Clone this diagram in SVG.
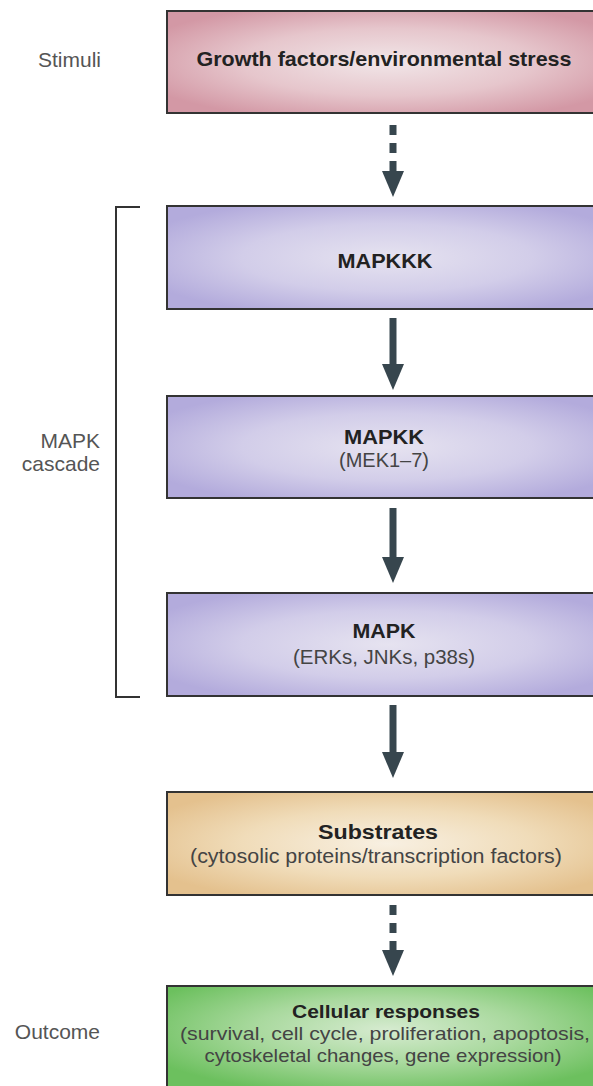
<svg xmlns="http://www.w3.org/2000/svg" width="593" height="1086" viewBox="0 0 593 1086">
<defs>
<radialGradient id="gPink" cx="0.5" cy="0.5" r="0.6">
<stop offset="0" stop-color="#f1e6e8"/><stop offset="0.55" stop-color="#e6c6cc"/><stop offset="1" stop-color="#d398a5"/>
</radialGradient>
<radialGradient id="gLav" cx="0.5" cy="0.5" r="0.6">
<stop offset="0" stop-color="#e6e3f0"/><stop offset="0.55" stop-color="#d2cde9"/><stop offset="1" stop-color="#b3abdc"/>
</radialGradient>
<radialGradient id="gTan" cx="0.5" cy="0.5" r="0.6">
<stop offset="0" stop-color="#f8f0e2"/><stop offset="0.55" stop-color="#f0dcb9"/><stop offset="1" stop-color="#e4c18e"/>
</radialGradient>
<radialGradient id="gGreen" cx="0.5" cy="0.4" r="0.6">
<stop offset="0" stop-color="#d6ebd0"/><stop offset="0.5" stop-color="#a9d99e"/><stop offset="1" stop-color="#6cc05e"/>
</radialGradient>
<path id="ah" d="M-11,0 L11,0 L0,26 Z" fill="#37464e"/>
<style>
.box{stroke:#333;stroke-width:2}
.t{font-family:"Liberation Sans",Arial,sans-serif;font-size:21px;text-anchor:middle}
.m{font-size:20px}
.c{font-size:19px}
.b{font-weight:bold;fill:#222}
.s{fill:#444}
.lbl{font-family:"Liberation Sans",Arial,sans-serif;font-size:21px;fill:#555;text-anchor:end}
.solid{stroke:#37464e;stroke-width:7;fill:none}
.dash{stroke:#37464e;stroke-width:7;fill:none;stroke-dasharray:10 8}
.brk{stroke:#333;stroke-width:2;fill:none}
</style>
</defs>
<rect width="593" height="1086" fill="#fff"/>

<g id="labels">
<text class="lbl" x="101" y="67">Stimuli</text>
<text class="lbl" x="100" y="448">MAPK</text>
<text class="lbl" x="100" y="471">cascade</text>
<text class="lbl" x="100" y="1039">Outcome</text>
</g>

<g id="bracket">
<path class="brk" d="M140,207 H116 V697 H140"/>
</g>

<g id="connectors">
<path class="dash" d="M393,125 V172"/>
<use href="#ah" x="393" y="171"/>
<path class="solid" d="M393,318 V366"/>
<use href="#ah" x="393" y="364"/>
<path class="solid" d="M393,508 V558"/>
<use href="#ah" x="393" y="557"/>
<path class="solid" d="M393,705 V753"/>
<use href="#ah" x="393" y="752"/>
<path class="dash" d="M393,905 V951"/>
<use href="#ah" x="393" y="950"/>
</g>

<g id="stimuli">
<rect class="box" x="167" y="11" width="440" height="102" fill="url(#gPink)"/>
<text class="t b" x="384" y="66" textLength="375" lengthAdjust="spacingAndGlyphs">Growth factors/environmental stress</text>
</g>

<g id="mapkkk">
<rect class="box" x="167" y="206" width="440" height="103" fill="url(#gLav)"/>
<text class="t b" x="385" y="268" textLength="95" lengthAdjust="spacingAndGlyphs">MAPKKK</text>
</g>

<g id="mapkk">
<rect class="box" x="167" y="396" width="440" height="102" fill="url(#gLav)"/>
<text class="t m b" x="384" y="444" textLength="80" lengthAdjust="spacingAndGlyphs">MAPKK</text>
<text class="t m s" x="384" y="467">(MEK1–7)</text>
</g>

<g id="mapk">
<rect class="box" x="167" y="593" width="440" height="103" fill="url(#gLav)"/>
<text class="t m b" x="384" y="638" textLength="63" lengthAdjust="spacingAndGlyphs">MAPK</text>
<text class="t m s" x="384" y="664" textLength="182" lengthAdjust="spacingAndGlyphs">(ERKs, JNKs, p38s)</text>
</g>

<g id="substrates">
<rect class="box" x="167" y="792" width="440" height="103" fill="url(#gTan)"/>
<text class="t m b" x="378" y="839" textLength="120" lengthAdjust="spacingAndGlyphs">Substrates</text>
<text class="t m s" x="376" y="863" textLength="372" lengthAdjust="spacingAndGlyphs">(cytosolic proteins/transcription factors)</text>
</g>

<g id="outcome">
<rect class="box" x="167" y="986" width="440" height="110" fill="url(#gGreen)"/>
<text class="t c b" x="386" y="1018" textLength="188" lengthAdjust="spacingAndGlyphs">Cellular responses</text>
<text class="t c s" x="385" y="1040" textLength="410" lengthAdjust="spacingAndGlyphs">(survival, cell cycle, proliferation, apoptosis,</text>
<text class="t c s" x="383" y="1062" textLength="357" lengthAdjust="spacingAndGlyphs">cytoskeletal changes, gene expression)</text>
</g>
</svg>
